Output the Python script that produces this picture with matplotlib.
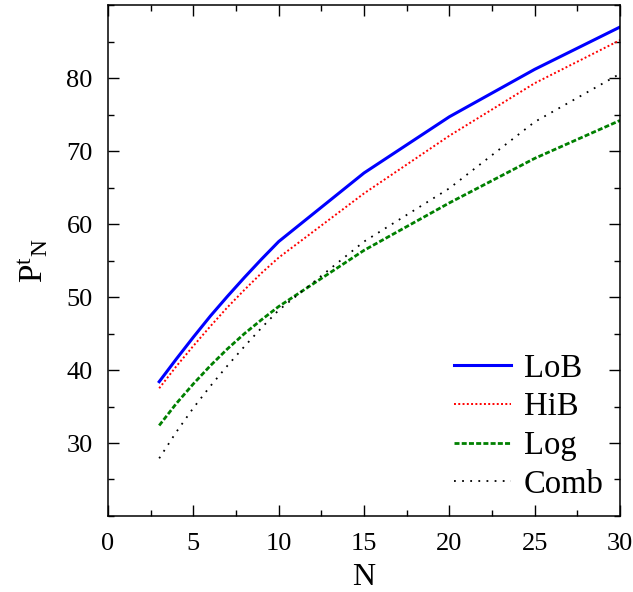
import matplotlib
matplotlib.use("Agg")
import matplotlib.pyplot as plt
from matplotlib.ticker import MultipleLocator

plt.rcParams['font.family'] = ['Liberation Serif', 'DejaVu Serif']
plt.rcParams['mathtext.fontset'] = 'custom'
plt.rcParams['mathtext.rm'] = 'Liberation Serif'
plt.rcParams['mathtext.it'] = 'Liberation Serif'

# data
N = [3, 4, 5, 6, 7, 8, 9, 10, 15, 20, 25, 30]
lob = [38.4, 41.5, 44.5, 47.4, 50.1, 52.7, 55.2, 57.6, 67.0, 74.7, 81.2, 87.0]
hib = [37.5, 40.5, 43.3, 46.0, 48.6, 51.0, 53.3, 55.4, 64.2, 72.1, 79.3, 85.2]
logm = [32.4, 35.4, 38.1, 40.6, 42.9, 45.0, 46.9, 48.7, 56.4, 62.9, 69.0, 74.2]
comb = [27.9, 31.5, 34.8, 37.8, 40.6, 43.25, 45.8, 48.2, 57.6, 64.9, 74.0, 80.6]

fig = plt.figure(figsize=(6.33, 5.92), dpi=100)
ax = fig.add_axes([0.1706, 0.1284, 0.809, 0.863])

ax.plot(N, lob, color='blue', lw=2.2, label='LoB')
ax.plot(N, hib, color='red', lw=1.4, ls=(0, (1, 1.2)), label='HiB')
ax.plot(N, logm, color='green', lw=2.0, ls=(0, (1.8, 0.8)), label='Log')
ax.plot(N, comb, color='black', lw=1.3, ls=(0, (1, 3.5)), label='Comb')

ax.set_xlim(0, 30)
ax.set_ylim(20, 90)
ax.set_xticks([0, 5, 10, 15, 20, 25, 30])
ax.set_yticks([30, 40, 50, 60, 70, 80])
ax.xaxis.set_minor_locator(MultipleLocator(2.5))
ax.yaxis.set_minor_locator(MultipleLocator(5))
ax.tick_params(which='both', direction='in', top=True, right=True, width=1.0)
ax.tick_params(which='major', length=8, labelsize=19, pad=11)
ax.tick_params(which='minor', length=4)
ax.tick_params(axis='x', which='major', pad=12)
for s in ax.spines.values():
    s.set_linewidth(1.1)

ax.set_xlabel('N', fontsize=23, labelpad=6)
ax.set_ylabel(r'$\mathrm{P}^{\mathrm{t}}{}_{\mathrm{N}}$', fontsize=24, labelpad=12)

ax.legend(loc='lower right', frameon=False, fontsize=23.5, handlelength=1.75,
          handletextpad=0.4, labelspacing=0.25, borderaxespad=0.1,
          bbox_to_anchor=(1.0, 0.0))

fig.savefig('out.png', dpi=100)
